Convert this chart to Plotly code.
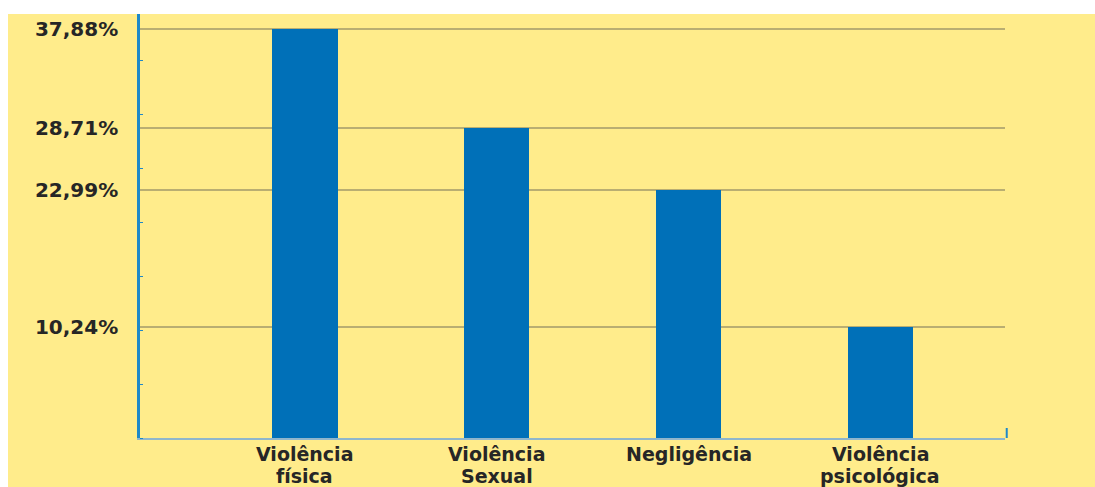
import plotly.graph_objects as go

categories = ["Violência<br>física", "Violência<br>Sexual", "Negligência", "Violência<br>psicológica"]
values = [37.88, 28.71, 22.99, 10.24]
tick_labels = ["37,88%", "28,71%", "22,99%", "10,24%"]

YELLOW = "#FFEC8B"
BLUE = "#0070B8"
TEXT = "#262626"
FONT = "DejaVu Sans"
YSIZE = 20
XSIZE = 19

fig = go.Figure()
fig.add_trace(go.Bar(
    x=categories, y=values, marker_color=BLUE, marker_line_width=0, width=0.34,
    hoverinfo="skip",
))

fig.update_layout(
    width=1095, height=487,
    margin=dict(l=140, r=90, t=14, b=49),
    paper_bgcolor=YELLOW, plot_bgcolor=YELLOW,
    showlegend=False,
    font=dict(family=FONT, color=TEXT, size=YSIZE, weight="bold"),
    bargap=0,
)
fig.update_xaxes(
    range=[-0.86, 3.65], automargin=False,
    showgrid=False, zeroline=False,
    showline=True, linecolor="#8FB6CC", linewidth=1.5,
    ticks="", showticklabels=False,
)
fig.update_yaxes(
    range=[0, 39.27], automargin=False,
    tickmode="array", tickvals=values, ticktext=tick_labels,
    showgrid=True, gridcolor="#B9AE72", gridwidth=2,
    zeroline=False,
    showline=True, linecolor="#1E88C8", linewidth=2.5,
    ticks="", ticklabelstandoff=15,
    tickfont=dict(family=FONT, size=YSIZE, color=TEXT, weight="bold"),
    minor=dict(dtick=5, tick0=0, ticks="inside", ticklen=3, tickcolor="#1E88C8", showgrid=False),
)

# category labels, one annotation per line, with a tight line pitch as in the reference
for cat in categories:
    for i, line in enumerate(cat.split("<br>")):
        fig.add_annotation(
            x=cat, xref="x", y=0, yref="paper", text=line, showarrow=False,
            yanchor="middle", yshift=-(16 + 22 * i), borderpad=0,
            font=dict(family=FONT, size=XSIZE, color=TEXT, weight="bold"),
        )

# white border strips (top and left), as in the scanned reference
fig.add_shape(type="rect", xref="paper", yref="paper", x0=-1, x1=2, y0=1.0, y1=1.2,
              fillcolor="white", line_width=0, layer="above")
fig.add_shape(type="rect", xref="paper", yref="paper", x0=-1, x1=-132/865, y0=-1, y1=2,
              fillcolor="white", line_width=0, layer="above")
# small end tick on the x axis
fig.add_shape(type="line", xref="paper", yref="paper", x0=1.002, x1=1.002, y0=0, y1=10/424,
              line=dict(color="#1E88C8", width=2))

fig.write_html("out.html")
